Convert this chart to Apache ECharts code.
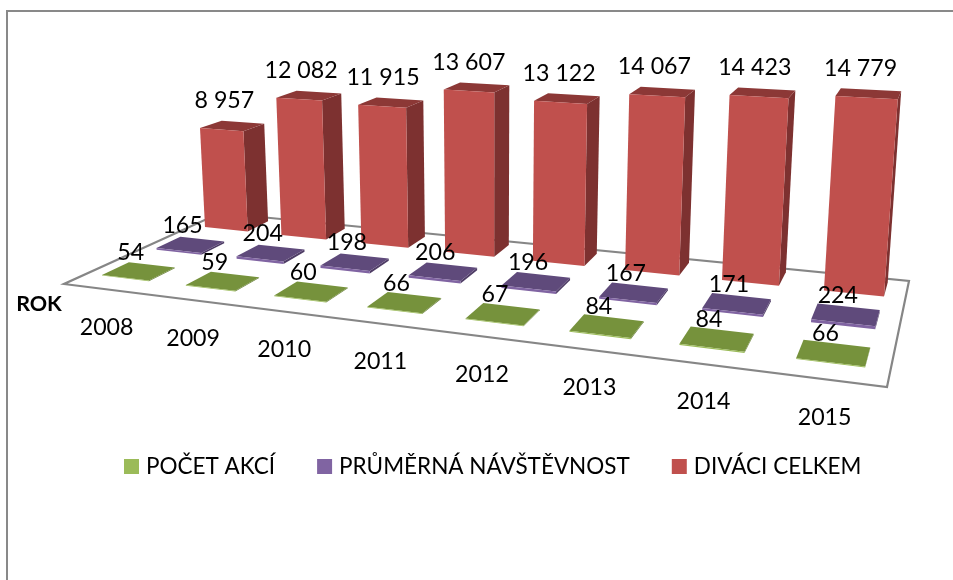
<!DOCTYPE html>
<html><head><meta charset="utf-8">
<style>html,body{margin:0;padding:0;background:#fff}#c{width:953px;height:580px}</style>
<script src="https://cdn.jsdelivr.net/npm/echarts@6/dist/echarts.min.js"></script>
</head><body><div id="c"></div>
<script>
var categories = ['2008','2009','2010','2011','2012','2013','2014','2015'];
var pocetAkci = [54,59,60,66,67,84,84,66];
var prumernaNavstevnost = [165,204,198,206,196,167,171,224];
var divaciCelkem = [8957,12082,11915,13607,13122,14067,14423,14779];
var seriesNames = ['POČET AKCÍ','PRŮMĚRNÁ NÁVŠTĚVNOST','DIVÁCI CELKEM'];
var axisName = 'ROK';

var FONT = 'Lato, Carlito, Calibri, sans-serif';
// floor quadrilateral drawn on screen: front-left, front-right, back-right, back-left
var Q = [[64,284],[887,387],[909,281],[220,213]];
// quadrilateral the bars are projected through (fitted to the bar corners)
var BQ = [[59,284],[886,387],[909,281],[214,213]];
var VP = [492,5900];           // vertical vanishing point
var K = -7.6e-5;               // height perspective per pixel of the value axis
var BAR_W = 0.565, BAR_D = 0.16, ROW0 = 0.13, ROW_STEP = 0.335, BAR_SHIFT = 0.022;
var LABEL_DY = [-19,-19,-25];

function makeProjector(q){
  var dx1=q[1][0]-q[2][0], dx2=q[3][0]-q[2][0], sx=q[0][0]-q[1][0]+q[2][0]-q[3][0];
  var dy1=q[1][1]-q[2][1], dy2=q[3][1]-q[2][1], sy=q[0][1]-q[1][1]+q[2][1]-q[3][1];
  var det=dx1*dy2-dx2*dy1, G=(sx*dy2-dx2*sy)/det, H=(dx1*sy-sx*dy1)/det;
  var A=q[1][0]-q[0][0]+G*q[1][0], B=q[3][0]-q[0][0]+H*q[3][0];
  var D=q[1][1]-q[0][1]+G*q[1][1], E=q[3][1]-q[0][1]+H*q[3][1];
  return function(u,v,w){
    var hz=G*u+H*v+1, ws=w*K, den=hz+ws;
    return [(A*u+B*v+q[0][0]+ws*VP[0])/den,(D*u+E*v+q[0][1]+ws*VP[1])/den];
  };
}
var project=makeProjector(BQ), projectFloor=makeProjector(Q);
function fmt(n){return String(n).replace(/\B(?=(\d{3})+$)/g,' ');}

function barRenderer(row,front,top,side){
  return function(params,api){
    var W=api.getWidth();
    var cx=api.coord([api.value(0),0])[0]/W;
    var band=api.size([1,0])[0]/W;
    var val=api.value(1);
    var h=api.size([0,val])[1];
    var u0=cx-band*BAR_W/2+band*BAR_SHIFT, u1=u0+band*BAR_W;
    var v0=ROW0+ROW_STEP*row, v1=v0+BAR_D;
    var a=project(u0,v0,0),b=project(u1,v0,0),c=project(u1,v1,0);
    var a2=project(u0,v0,h),b2=project(u1,v0,h),c2=project(u1,v1,h),d2=project(u0,v1,h);
    var mid=project((u0+u1)/2,(v0+v1)/2,h);
    var kids=[
      {type:'polygon',shape:{points:[b,c,c2,b2]},style:{fill:side}},
      {type:'polygon',shape:{points:[a2,b2,c2,d2]},style:{fill:top}},
      {type:'polygon',shape:{points:[a,b,b2,a2]},style:{fill:front}},
      {type:'text',style:{text:fmt(val),x:mid[0]-8,y:mid[1]+LABEL_DY[row],font:'23.2px '+FONT,fill:'#000',align:'center',verticalAlign:'middle'}}
    ];
    return {type:'group',children:kids};
  };
}
function rows(values){return values.map(function(v,i){return [i,v];});}
function custom(name,row,values,front,top,side){
  return {type:'custom',name:name,coordinateSystem:'cartesian2d',silent:true,
    itemStyle:{color:front},encode:{x:0,y:1},
    renderItem:barRenderer(row,front,top,side),data:rows(values),clip:false,animation:false};
}
var chart=echarts.init(document.getElementById('c'),null,{renderer:'canvas'});
chart.setOption({
  animation:false,
  backgroundColor:'#fff',
  grid:{left:0,right:0,top:0,bottom:0},
  xAxis:{type:'category',data:categories,show:false},
  yAxis:{type:'value',min:0,max:20000,show:false},
  legend:{data:seriesNames,left:119,top:450,itemWidth:15,itemHeight:15,itemGap:42,icon:'rect',
    textStyle:{fontFamily:FONT,fontSize:22.5,color:'#000',padding:[0,0,0,2]}},
  graphic:[
    {type:'rect',z:0,silent:true,shape:{x:7,y:11,width:960,height:600},style:{fill:'none',stroke:'#898989',lineWidth:2}},
    {type:'polygon',z:0,silent:true,shape:{points:Q},style:{fill:'#fff',stroke:'#868686',lineWidth:2.2}},
    {type:'text',z:5,silent:true,style:{text:axisName,x:39,y:304,font:'bold 21.5px '+FONT,fill:'#000',align:'center',verticalAlign:'middle'}}
  ],
  series:[
    custom(seriesNames[2],2,divaciCelkem,'#c0504d','#8c3836','#7d3130'),
    custom(seriesNames[1],1,prumernaNavstevnost,'#8064a2','#5f4a7b','#4f3d66'),
    custom(seriesNames[0],0,pocetAkci,'#9bbb59','#76923c','#637b32'),
    {type:'custom',name:axisName,coordinateSystem:'cartesian2d',silent:true,clip:false,animation:false,encode:{x:0,y:1},
     data:rows(categories.map(function(){return 0;})),
     renderItem:function(params,api){
       var W=api.getWidth(), cx=api.coord([api.value(0),0])[0]/W;
       var p=projectFloor(cx,0,0);
       return {type:'text',style:{text:categories[api.value(0)],x:p[0]+1,y:p[1]+38,font:'23.2px '+FONT,fill:'#000',align:'center',verticalAlign:'middle'}};
     }}
  ]
});
</script></body></html>
